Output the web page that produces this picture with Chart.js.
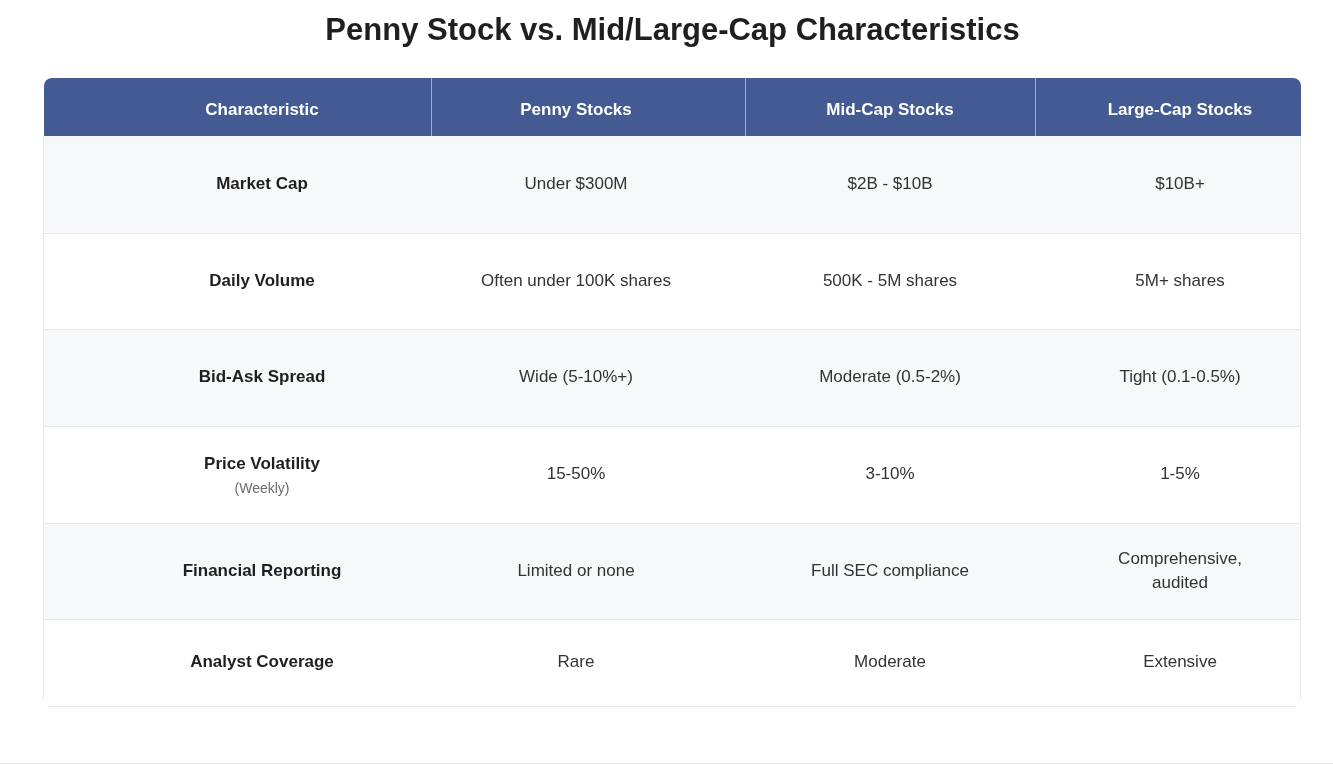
<!DOCTYPE html>
<html>
<head>
<meta charset="utf-8">
<title>Penny Stock vs. Mid/Large-Cap Characteristics</title>
<script src="https://cdn.jsdelivr.net/npm/chart.js@4.4.1/dist/chart.umd.min.js"></script>
<style>
    html, body { margin: 0; padding: 0; background: #ffffff; }
    #wrap { width: 1333px; height: 765px; position: relative; }
</style>
</head>
<body>
<div id="wrap"><canvas id="tableChart"></canvas></div>
<script>
// TABLE CONTENT
const columnHeaders = ['Characteristic', 'Penny Stocks', 'Mid-Cap Stocks', 'Large-Cap Stocks'];
const characteristics = ['Market Cap', 'Daily Volume', 'Bid-Ask Spread', 'Price Volatility', 'Financial Reporting', 'Analyst Coverage'];
const characteristicNotes = ['', '', '', '(Weekly)', '', ''];
const pennyStocks = ['Under $300M', 'Often under 100K shares', 'Wide (5-10%+)', '15-50%', 'Limited or none', 'Rare'];
const midCapStocks = ['$2B - $10B', '500K - 5M shares', 'Moderate (0.5-2%)', '3-10%', 'Full SEC compliance', 'Moderate'];
const largeCapStocks = ['$10B+', '5M+ shares', 'Tight (0.1-0.5%)', '1-5%', 'Comprehensive, audited', 'Extensive'];

// LAYOUT (scale units: x = table pixels, y = row index, header above 0)
const tableWidth = 1257;
const columnEdges = [0, 387, 701, 991, 1257];
const textCenters = [218, 532, 846, 1136];
const headerSpan = 0.6;
const lastRowSpan = 0.897;
const cellPadding = 48;

const FONT = "'Liberation Sans', Arial, Helvetica, sans-serif";
const headerColor = '#435a92';
const stripeColor = '#f7f8fa';
const borderColor = '#e6e8ec';

function wrapLines(ctx, text, maxWidth) {
    const words = text.split(' ');
    const lines = [];
    let line = '';
    words.forEach(w => {
        const test = line ? line + ' ' + w : w;
        if (ctx.measureText(test).width > maxWidth && line) {
            lines.push(line);
            line = w;
        } else {
            line = test;
        }
    });
    lines.push(line);
    return lines;
}

const tablePlugin = {
    id: 'tableCells',
    beforeDatasetsDraw(chart) {
        const { ctx, scales: { x, y } } = chart;
        const left = x.getPixelForValue(0);
        const right = x.getPixelForValue(tableWidth);
        const headTop = y.getPixelForValue(y.min);
        const headBottom = y.getPixelForValue(0);
        const bodyBottom = y.getPixelForValue(y.max);
        const columns = [characteristics, pennyStocks, midCapStocks, largeCapStocks];

        ctx.save();

        // row backgrounds
        characteristics.forEach((name, i) => {
            const top = y.getPixelForValue(i);
            const bottom = y.getPixelForValue(Math.min(i + 1, y.max));
            ctx.fillStyle = i % 2 === 0 ? stripeColor : '#ffffff';
            ctx.fillRect(left, top, right - left, bottom - top);
        });
        // row separators
        ctx.fillStyle = borderColor;
        characteristics.slice(1).forEach((name, i) => {
            ctx.fillRect(left, Math.round(y.getPixelForValue(i + 1)), right - left, 1);
        });

        // outer borders of body
        ctx.fillStyle = '#e9eaed';
        ctx.fillRect(left - 1, headBottom, 1, bodyBottom - headBottom - 6);
        ctx.fillRect(right - 1, headBottom, 1, bodyBottom - headBottom - 6);
        ctx.fillStyle = '#e8e9ec';
        ctx.fillRect(left + 4, Math.round(bodyBottom), right - left - 9, 1);

        // header
        ctx.fillStyle = headerColor;
        ctx.beginPath();
        ctx.roundRect(left, headTop, right - left, headBottom - headTop, [8, 8, 0, 0]);
        ctx.fill();
        ctx.fillStyle = 'rgba(255,255,255,0.5)';
        columnEdges.slice(1, -1).forEach(edge => {
            const px = Math.round(x.getPixelForValue(edge));
            ctx.fillRect(px, headTop, 1, headBottom - headTop);
        });

        ctx.textAlign = 'center';
        ctx.textBaseline = 'middle';
        ctx.fillStyle = '#ffffff';
        ctx.font = 'bold 17px ' + FONT;
        columnHeaders.forEach((h, c) => {
            ctx.fillText(h, x.getPixelForValue(textCenters[c]), (headTop + headBottom) / 2 + 3);
        });

        // cell texts
        characteristics.forEach((name, i) => {
            const top = y.getPixelForValue(i);
            const bottom = y.getPixelForValue(Math.min(i + 1, y.max));
            const mid = (top + bottom) / 2;
            columns.forEach((col, c) => {
                const cx = x.getPixelForValue(textCenters[c]);
                if (c === 0) {
                    ctx.fillStyle = '#1f1f1f';
                    ctx.font = 'bold 17px ' + FONT;
                    if (characteristicNotes[i]) {
                        ctx.fillText(col[i], cx, mid - 10);
                        ctx.fillStyle = '#6b6b6b';
                        ctx.font = '14px ' + FONT;
                        ctx.fillText(characteristicNotes[i], cx, mid + 15);
                    } else {
                        ctx.fillText(col[i], cx, mid);
                    }
                } else {
                    ctx.fillStyle = '#333333';
                    ctx.font = '17px ' + FONT;
                    const cellW = x.getPixelForValue(columnEdges[c + 1]) - x.getPixelForValue(columnEdges[c]);
                    const lines = wrapLines(ctx, col[i], cellW - 2 * cellPadding);
                    const lh = 24;
                    lines.forEach((ln, k) => {
                        ctx.fillText(ln, cx, mid + (k - (lines.length - 1) / 2) * lh);
                    });
                }
            });
        });

        // page divider at the very bottom
        ctx.fillStyle = '#e6e6e6';
        ctx.fillRect(0, chart.height - 2, chart.width, 1);

        ctx.restore();
    }
};

const ctx = document.getElementById('tableChart').getContext('2d');
const myChart = new Chart(ctx, {
    type: 'scatter',
    data: { datasets: [{ data: [], pointRadius: 0 }] },
    options: {
        responsive: true,
        maintainAspectRatio: false,
        animation: false,
        events: [],
        layout: { padding: { left: 44, right: 32, top: 0, bottom: 59 } },
        scales: {
            x: { type: 'linear', min: 0, max: tableWidth, display: false },
            y: { type: 'linear', min: -headerSpan, max: characteristics.length - 1 + lastRowSpan, reverse: true, display: false }
        },
        plugins: {
            legend: { display: false },
            tooltip: { enabled: false },
            title: {
                display: true,
                text: 'Penny Stock vs. Mid/Large-Cap Characteristics',
                color: '#1f1f1f',
                font: { family: FONT, size: 31, weight: 'bold', lineHeight: 1.2 },
                padding: { top: 13, bottom: 27.8 }
            }
        }
    },
    plugins: [tablePlugin]
});
</script>
</body>
</html>
